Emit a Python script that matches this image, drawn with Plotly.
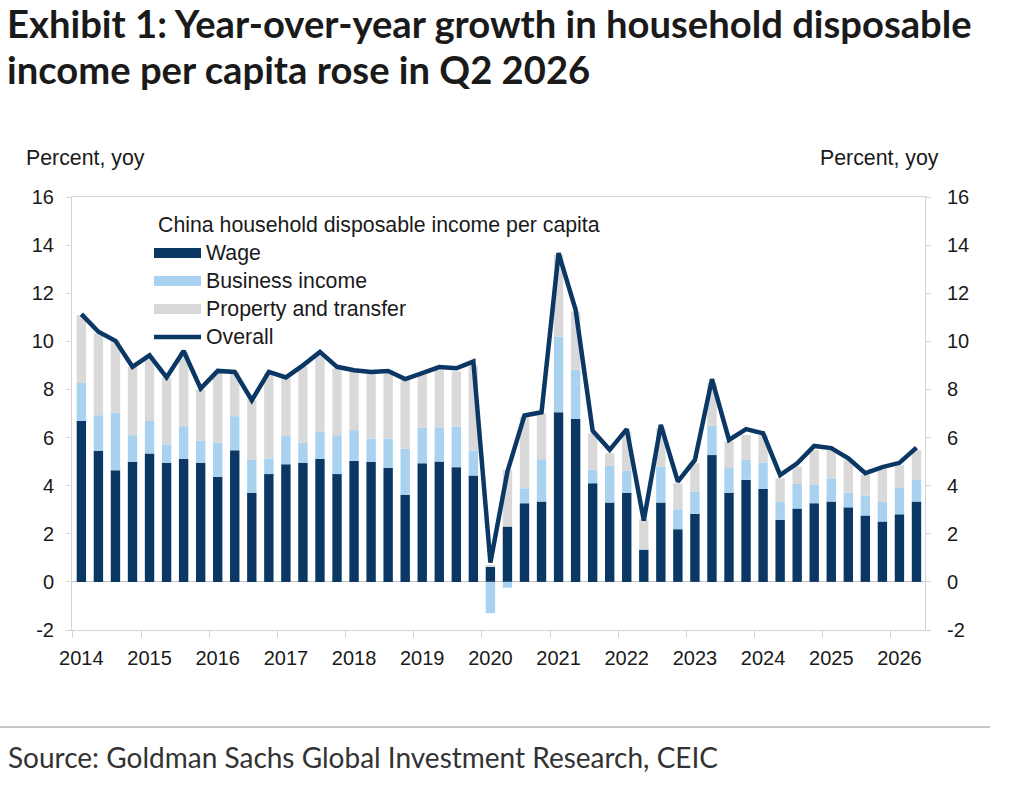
import plotly.graph_objects as go

# ---------------- data (percent, yoy) ----------------
years = ["2014", "2015", "2016", "2017", "2018", "2019", "2020",
         "2021", "2022", "2023", "2024", "2025", "2026"]

wage = [6.69, 5.45, 4.64, 4.99, 5.34, 4.95, 5.11, 4.95, 4.37, 5.47,
        3.71, 4.48, 4.89, 4.95, 5.11, 4.48, 5.03, 4.99, 4.75, 3.62,
        4.93, 5.00, 4.77, 4.42, 0.64, 2.30, 3.27, 3.34, 7.05, 6.78,
        4.10, 3.30, 3.71, 1.33, 3.30, 2.19, 2.83, 5.27, 3.71, 4.24,
        3.86, 2.58, 3.05, 3.27, 3.34, 3.10, 2.76, 2.51, 2.81, 3.34]

business = [1.58, 1.48, 2.39, 1.11, 1.35, 0.77, 1.36, 0.91, 1.41, 1.42,
            1.38, 0.65, 1.17, 0.83, 1.13, 1.62, 1.28, 0.97, 1.21, 1.92,
            1.49, 1.42, 1.69, 1.03, -1.30, -0.24, 0.62, 1.76, 3.15, 2.04,
            0.56, 1.52, 0.92, 0.03, 1.50, 0.83, 0.93, 1.22, 1.02, 0.83,
            1.11, 0.76, 1.02, 0.76, 0.96, 0.61, 0.83, 0.83, 1.12, 0.90]

property_transfer = [2.82, 3.40, 3.02, 2.84, 2.69, 2.78, 3.09, 2.14, 2.95, 1.84,
                     2.46, 3.56, 2.44, 3.16, 3.21, 2.77, 2.42, 2.69, 2.69, 2.85,
                     2.19, 2.38, 2.29, 3.55, 0.05, 2.36, 2.98, 1.91, 3.40, 2.42,
                     1.52, 0.53, 1.62, 1.25, 1.59, 1.08, 1.17, 1.77, 1.11, 1.04,
                     1.14, 0.97, 0.73, 1.45, 1.18, 1.36, 0.86, 1.35, 0.93, 1.24]

overall = [11.13, 10.40, 10.02, 8.94, 9.42, 8.50, 9.60, 8.04, 8.77, 8.73,
           7.55, 8.73, 8.50, 9.00, 9.56, 8.94, 8.80, 8.73, 8.77, 8.43,
           8.68, 8.93, 8.88, 9.16, 0.80, 4.59, 6.92, 7.05, 13.67, 11.31,
           6.28, 5.49, 6.35, 2.55, 6.53, 4.17, 5.07, 8.43, 5.90, 6.35,
           6.18, 4.44, 4.93, 5.65, 5.56, 5.14, 4.52, 4.77, 4.95, 5.58]

y_ticks = [-2, 0, 2, 4, 6, 8, 10, 12, 14, 16]
y_tick_text = ["-2", "0", "2", "4", "6", "8", "10", "12", "14", "16"]

# quarter index positions (one bar per quarter, starting 2014 Q1)
xq = list(range(len(wage)))
year_pos = xq[::4]
year_bounds = [p - 0.5 for p in year_pos]

# ---------------- styling ----------------
NAVY = "#0b3764"
LIGHT = "#a8d2f0"
GREY = "#d9d9d9"
AXIS = "#d4d4d4"
TXT = "#1a1a1a"
FONT = "Liberation Sans, Arial, sans-serif"
FS = 21.3

W, H = 1024, 792
L, R, T, B = 72, 925, 197, 630


def pxx(x):
    return (x - L) / (R - L)


def pxy(y):
    return (B - y) / (B - T)


fig = go.Figure()
fig.add_trace(go.Bar(x=xq, y=wage, marker=dict(color=NAVY, line=dict(width=0)),
                     name="Wage", hoverinfo="skip"))
fig.add_trace(go.Bar(x=xq, y=business, marker=dict(color=LIGHT, line=dict(width=0)),
                     name="Business income", hoverinfo="skip"))
fig.add_trace(go.Bar(x=xq, y=property_transfer, marker=dict(color=GREY, line=dict(width=0)),
                     name="Property and transfer", hoverinfo="skip"))
fig.add_trace(go.Scatter(x=xq, y=overall, mode="lines",
                         line=dict(color=NAVY, width=4.5), name="Overall",
                         hoverinfo="skip"))
# invisible companion so the right-hand axis is drawn
fig.add_trace(go.Scatter(x=xq, y=overall, mode="lines", yaxis="y2",
                         line=dict(width=0), opacity=0, showlegend=False,
                         hoverinfo="skip"))

annotations = []


def add_text(text, x, y, size, xanchor="left", bold=False, font=FONT, color=TXT):
    annotations.append(dict(
        text=f"<b>{text}</b>" if bold else text,
        x=pxx(x), y=pxy(y), xref="paper", yref="paper",
        xanchor=xanchor, yanchor="middle", showarrow=False,
        font=dict(family=font, size=size, color=color)))


# title & source
add_text("Exhibit 1: Year-over-year growth in household disposable", 5, 23, 38.2,
         bold=True, font="Lato, sans-serif")
add_text("income per capita rose in Q2 2026", 5, 69, 38.2,
         bold=True, font="Lato, sans-serif")
add_text("Source: Goldman Sachs Global Investment Research, CEIC", 6, 757, 28,
         font="Lato, sans-serif", color="#333333")

# axis titles
add_text("Percent, yoy", 24, 158, FS)
add_text("Percent, yoy", 941, 158, FS, xanchor="right")

# legend
add_text("China household disposable income per capita", 156, 225, FS)
leg_rows = [("Wage", NAVY, "bar"), ("Business income", LIGHT, "bar"),
            ("Property and transfer", GREY, "bar"), ("Overall", NAVY, "line")]
shapes = []
for i, (lab, col, kind) in enumerate(leg_rows):
    yc = 253 + 28 * i
    add_text(lab, 204, yc, FS)
    if kind == "bar":
        shapes.append(dict(type="rect", xref="paper", yref="paper",
                           x0=pxx(154), x1=pxx(201), y0=pxy(yc + 5), y1=pxy(yc - 5),
                           fillcolor=col, line=dict(width=0)))
    else:
        shapes.append(dict(type="line", xref="paper", yref="paper",
                           x0=pxx(154), x1=pxx(201), y0=pxy(yc), y1=pxy(yc),
                           line=dict(color=col, width=4.5)))

# separator above source
shapes.append(dict(type="line", xref="paper", yref="paper",
                   x0=pxx(0), x1=pxx(990), y0=pxy(727), y1=pxy(727),
                   line=dict(color="#8a8a8a", width=1)))

fig.update_layout(
    width=W, height=H,
    margin=dict(l=L, r=W - R, t=T, b=H - B, pad=0),
    paper_bgcolor="white", plot_bgcolor="white",
    barmode="relative", bargap=0.45,
    showlegend=False,
    font=dict(family=FONT, size=FS, color=TXT),
    xaxis=dict(
        range=[-0.55, len(wage) - 0.5],
        tickmode="array", tickvals=year_pos, ticktext=years,
        ticks="outside", ticklen=10, tickcolor="rgba(0,0,0,0)",
        minor=dict(tickmode="array", tickvals=year_bounds, ticks="outside",
                   ticklen=7, tickcolor=AXIS, showgrid=False),
        showgrid=False, zeroline=False,
        showline=True, linecolor=AXIS, linewidth=1, mirror=True,
        tickfont=dict(size=20, color=TXT),
    ),
    yaxis=dict(
        range=[-2, 16], tickmode="array", tickvals=y_ticks, ticktext=y_tick_text,
        ticks="outside", ticklen=5, tickcolor=AXIS,
        showgrid=False, zeroline=True, zerolinecolor="#c4c4c4", zerolinewidth=1,
        showline=True, linecolor=AXIS, linewidth=1,
        tickfont=dict(size=20, color=TXT), ticklabelstandoff=8,
    ),
    yaxis2=dict(
        range=[-2, 16], tickmode="array", tickvals=y_ticks, ticktext=y_tick_text,
        overlaying="y", side="right",
        ticks="outside", ticklen=5, tickcolor=AXIS,
        showgrid=False, zeroline=False,
        showline=True, linecolor=AXIS, linewidth=1,
        tickfont=dict(size=20, color=TXT), ticklabelstandoff=12,
    ),
    annotations=annotations,
    shapes=shapes,
)

fig.write_html("out.html")
